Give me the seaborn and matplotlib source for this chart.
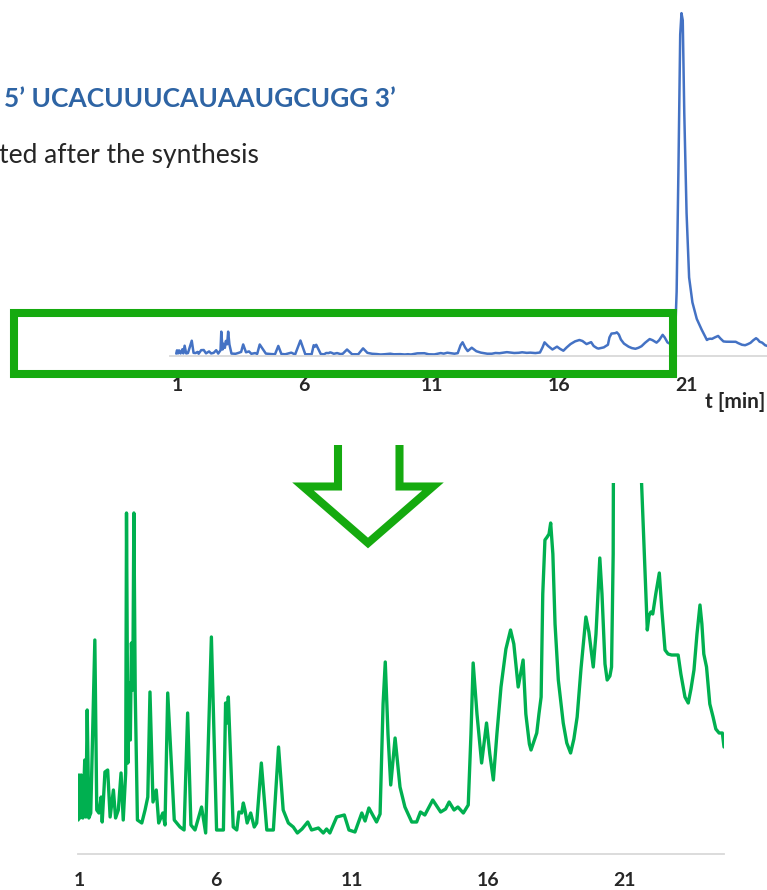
import numpy as np
import pandas as pd
import matplotlib
matplotlib.use('Agg')
import matplotlib.pyplot as plt
import matplotlib.patches as patches
from matplotlib.lines import Line2D
import seaborn as sns

# chromatogram: retention time [min] and detector signal (a.u.)
time_min = [0.97, 1.00, 1.04, 1.08, 1.14, 1.21, 1.25, 1.30, 1.36, 1.43, 1.58, 1.65, 1.73, 1.81,
            1.85, 1.95, 2.05, 2.14, 2.26, 2.34, 2.44, 2.54, 2.62, 2.71, 2.74, 2.79, 2.83, 2.88,
            2.92, 2.97, 3.01, 3.06, 3.14, 3.30, 3.42, 3.52, 3.60, 3.71, 3.83, 3.92, 4.07, 4.15,
            4.25, 4.49, 4.70, 4.85, 4.98, 5.10, 5.25, 5.49, 5.64, 5.85, 6.04, 6.29, 6.37, 6.42,
            6.47, 6.65, 6.78, 6.86, 6.96, 7.02, 7.08, 7.16, 7.29, 7.42, 7.51, 7.68, 7.88, 8.12,
            8.31, 8.48, 8.67, 8.85, 9.00, 9.17, 9.38, 9.52, 9.77, 9.95, 10.07, 10.19, 10.44,
            10.72, 10.89, 11.11, 11.36, 11.48, 11.62, 11.90, 12.03, 12.14, 12.22, 12.32, 12.42,
            12.58, 12.76, 12.94, 13.19, 13.37, 13.51, 13.67, 13.96, 14.25, 14.43, 14.56, 14.74,
            14.88, 15.08, 15.26, 15.36, 15.44, 15.58, 15.75, 15.93, 16.05, 16.18, 16.31, 16.46,
            16.64, 16.81, 16.93, 17.09, 17.27, 17.37, 17.50, 17.56, 17.66, 17.77, 17.85, 17.93,
            17.99, 18.07, 18.15, 18.22, 18.28, 18.36, 18.44, 18.56, 18.74, 18.87, 19.01, 19.13,
            19.25, 19.39, 19.57, 19.68, 19.84, 19.94, 20.08, 20.16, 20.27, 20.35, 20.45, 20.51,
            20.57, 20.63, 20.70, 20.77, 20.82, 20.87, 20.93, 21.02, 21.12, 21.25, 21.42, 21.61,
            21.82, 21.88, 21.95, 22.02, 22.13, 22.26, 22.35, 22.47, 22.58, 22.71, 22.83, 22.95,
            23.05, 23.20, 23.32, 23.42, 23.53, 23.64, 23.75, 23.82, 23.89, 23.99, 24.11, 24.23,
            24.33, 24.45, 24.57, 24.63]
signal = [34, 79, 36, 79, 36, 94, 37, 144, 36, 41, 214, 44, 41, 57,
          32, 82, 84, 37, 64, 36, 44, 81, 34, 81, 341, 91, 171, 114,
          211, 164, 341, 161, 34, 31, 44, 57, 162, 52, 64, 31, 41, 29,
          161, 34, 27, 24, 141, 29, 24, 47, 21, 217, 24, 24, 151, 131,
          157, 27, 24, 42, 41, 51, 44, 31, 41, 27, 31, 91, 24, 24,
          107, 44, 31, 27, 21, 25, 32, 24, 26, 21, 25, 21, 37,
          39, 24, 22, 41, 33, 46, 32, 40, 150, 192, 120, 69,
          116, 67, 47, 32, 32, 42, 39, 54, 42, 45, 52, 44,
          47, 41, 49, 120, 191, 140, 91, 131, 100, 74, 120, 167,
          205, 224, 210, 167, 194, 140, 110, 104, 112, 121, 140, 157,
          260, 314, 317, 320, 331, 300, 230, 174, 131, 111, 101, 115,
          137, 185, 237, 222, 187, 220, 296, 260, 190, 174, 178, 187,
          300, 900, 2600, 4500, 4800, 4700, 3400, 2000, 1100, 750, 520, 371,
          224, 238, 242, 240, 260, 281, 245, 204, 200, 199, 199, 199,
          180, 157, 151, 165, 184, 220, 249, 230, 200, 187, 150, 137,
          125, 121, 121, 107]
tick_values = [1, 6, 11, 16, 21]
sequence_text = '5\u2019 UCACUUUCAUAAUGCUGG 3\u2019'
caption_text = 'ted after the synthesis'

df = pd.DataFrame({'t': time_min, 'signal': signal})

sns.set_style('white')
plt.rcParams['font.family'] = ['Lato', 'DejaVu Sans']

W, H = 767, 890
fig = plt.figure(figsize=(W / 100, H / 100), dpi=100)


def box(x0, y0, x1, y1):
    # pixel box (top-left origin) -> figure fraction rect
    return [x0 / W, 1 - y1 / H, (x1 - x0) / W, (y1 - y0) / H]


green = '#15aa0f'
axis_grey = '#d9d9d9'

# full chromatogram
ax_top = fig.add_axes(box(170, 10, 767, 356))
sns.lineplot(data=df, x='t', y='signal', ax=ax_top, color='#4472c4', linewidth=1.8)
ax_top.set_xlim(0.725, 24.18)
ax_top.set_ylim(0, 4844)

# zoom on the low part
ax_bot = fig.add_axes(box(78, 483, 724, 854))
sns.lineplot(data=df, x='t', y='signal', ax=ax_bot, color='#00b050', linewidth=2.4)
ax_bot.set_xlim(0.963, 24.63)
ax_bot.set_ylim(0, 371)

for ax, pad in ((ax_top, 15), (ax_bot, 13)):
    for ln in ax.get_lines():
        ln.set_solid_joinstyle('round')
    sns.despine(ax=ax, left=True, top=True, right=True)
    ax.spines['bottom'].set_color(axis_grey)
    ax.spines['bottom'].set_linewidth(1.3)
    ax.set_yticks([])
    ax.set_xticks(tick_values)
    ax.set_xticklabels([str(v) for v in tick_values], fontweight='bold', fontsize=14)
    ax.tick_params(axis='x', length=0, pad=pad)
    ax.set_xlabel('')
    ax.set_ylabel('')
    ax.patch.set_alpha(0)

fig.text(705 / W, 1 - 402 / H, 't [min]', fontsize=15, fontweight='bold', va='center', ha='left')
fig.text(4 / W, 1 - 107 / H, sequence_text, fontsize=19, fontweight='bold', color='#2e64a4',
         va='baseline', ha='left')
fig.text(-1 / W, 1 - 163 / H, caption_text, fontsize=19, va='baseline', ha='left')

# green frame around the region that is zoomed
fig.add_artist(patches.Rectangle((14 / W, 1 - 374 / H), (673 - 14) / W, (374 - 312.5) / H,
                                 transform=fig.transFigure, fill=False, ec=green, lw=5.8,
                                 joinstyle='miter'))

# open arrow pointing down
arrow_px = [(338, 445), (338, 486.5), (303, 486.5), (368, 543), (433, 486.5), (399.5, 486.5), (399.5, 445)]
fig.add_artist(Line2D([p[0] / W for p in arrow_px], [1 - p[1] / H for p in arrow_px],
                      transform=fig.transFigure, color=green, lw=5.8,
                      solid_joinstyle='miter', solid_capstyle='butt'))

fig.savefig('out.png', dpi=100)
